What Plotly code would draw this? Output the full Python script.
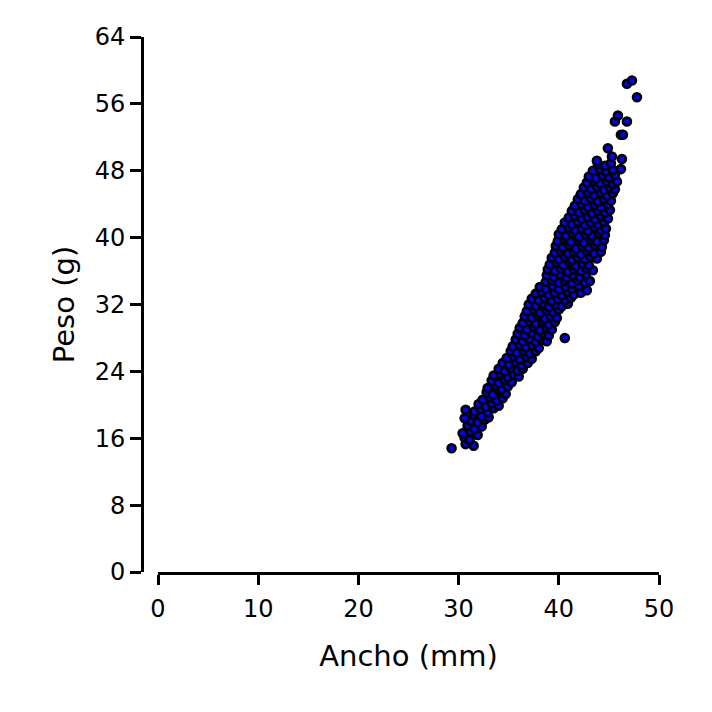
import plotly.graph_objects as go

# Ancho (mm) and Peso (g) values
ancho = [
    29.3,
    30.7, 31.5,
    30.6, 31.1,
    30.4, 31.2, 31.9,
    30.9, 31.6, 32.3,
    31.2, 31.9, 32.6,
    30.6, 31.5, 32.3, 33.0,
    30.7, 31.6, 32.2, 32.9, 33.5,
    32.0, 32.7, 33.3, 34.0,
    32.4, 33.1, 33.8, 34.4,
    32.8, 33.4, 34.1, 34.7,
    32.9, 33.7, 34.3, 34.9,
    33.3, 34.0, 34.6, 35.3,
    33.5, 34.2, 34.9, 35.5, 36.0,
    34.0, 34.6, 35.2, 35.9, 36.4,
    34.4, 35.0, 35.7, 36.3, 36.9,
    34.8, 35.5, 36.1, 36.8, 37.3,
    35.2, 35.8, 36.5, 37.1, 37.7,
    35.4, 36.1, 36.7, 37.4, 38.0,
    35.7, 36.4, 37.0, 37.7, 38.3, 38.8,
    35.9, 36.6, 37.3, 37.9, 38.5, 39.0, 40.6,
    36.1, 36.8, 37.5, 38.1, 38.8, 39.3,
    36.4, 37.1, 37.7, 38.4, 39.0, 39.6,
    36.6, 37.3, 37.9, 38.6, 39.2, 39.8,
    36.8, 37.5, 38.1, 38.8, 39.4, 40.0,
    37.0, 37.7, 38.4, 39.0, 39.7, 40.3, 40.9,
    37.3, 38.0, 38.6, 39.3, 39.9, 40.6, 41.2,
    37.7, 38.3, 39.0, 39.6, 40.3, 40.9, 41.5, 42.2,
    38.1, 38.7, 39.4, 40.0, 40.7, 41.3, 42.0, 42.8,
    38.7, 39.3, 40.0, 40.6, 41.3, 41.9, 42.6, 43.1,
    38.8, 39.5, 40.1, 40.8, 41.4, 42.1, 42.7,
    38.9, 39.6, 40.2, 40.9, 41.5, 42.2, 42.8, 43.4,
    39.1, 39.8, 40.4, 41.1, 41.7, 42.4, 43.0,
    39.3, 40.0, 40.6, 41.3, 41.9, 42.6, 43.2, 43.8,
    39.6, 40.2, 40.9, 41.5, 42.2, 42.8, 43.5, 44.2,
    39.7, 40.4, 41.0, 41.7, 42.3, 43.0, 43.6, 44.3,
    39.9, 40.6, 41.2, 41.9, 42.5, 43.2, 43.8, 44.5,
    40.0, 40.7, 41.4, 42.0, 42.7, 43.3, 44.0, 44.6,
    40.3, 41.0, 41.6, 42.3, 42.9, 43.6, 44.2, 44.7,
    40.6, 41.3, 41.9, 42.6, 43.2, 43.9, 44.5,
    41.0, 41.6, 42.3, 42.9, 43.6, 44.2, 44.9,
    41.3, 42.0, 42.6, 43.3, 43.9, 44.6, 45.1,
    41.6, 42.3, 42.9, 43.6, 44.2, 44.9,
    41.9, 42.6, 43.2, 43.9, 44.5, 45.2,
    42.2, 42.9, 43.5, 44.2, 44.8, 45.4,
    42.5, 43.2, 43.8, 44.5, 45.1, 45.6,
    42.8, 43.5, 44.1, 44.8, 45.4, 45.8,
    43.0, 43.7, 44.4, 45.0, 45.6,
    43.4, 44.1, 44.7, 45.4, 46.2,
    43.9, 44.6, 45.2,
    43.8, 45.3, 46.3,
    44.9,
    46.2, 46.4,
    45.6, 46.8,
    45.9,
    47.8,
    46.8,
    47.3,
]

peso = [
    14.8,
    15.3, 15.1,
    16.1, 15.8,
    16.6, 16.8, 16.4,
    17.5, 17.1, 17.4,
    18.1, 17.9, 18.2,
    18.4, 18.8, 18.6, 18.5,
    19.4, 19.2, 19.5, 19.1, 19.6,
    20.1, 19.8, 20.2, 19.9,
    20.6, 20.9, 20.5, 20.8,
    21.5, 21.2, 21.6, 21.3,
    22.0, 22.3, 21.9, 22.2,
    22.9, 22.6, 23.0, 22.7,
    23.5, 23.7, 23.3, 23.6, 23.4,
    24.3, 24.0, 24.4, 24.1, 24.3,
    25.0, 24.8, 25.1, 24.7, 25.0,
    25.6, 25.8, 25.4, 25.7, 25.5,
    26.4, 26.2, 26.5, 26.1, 26.4,
    27.0, 27.2, 26.9, 27.1, 26.8,
    27.8, 27.6, 27.9, 27.5, 27.8, 27.6,
    28.5, 28.3, 28.6, 28.2, 28.5, 28.3, 28.0,
    29.2, 29.0, 29.3, 28.9, 29.2, 29.0,
    29.8, 30.0, 29.7, 30.0, 29.6, 29.9,
    30.6, 30.4, 30.7, 30.3, 30.6, 30.4,
    31.2, 31.4, 31.0, 31.3, 31.1, 31.4,
    32.0, 31.8, 32.1, 31.7, 32.0, 31.8, 32.1,
    32.7, 32.5, 32.8, 32.4, 32.7, 32.5, 32.8,
    33.3, 33.5, 33.2, 33.4, 33.1, 33.5, 33.2, 33.4,
    34.1, 33.9, 34.2, 33.8, 34.1, 33.9, 34.2, 33.7,
    34.7, 34.9, 34.6, 34.8, 34.5, 34.9, 34.6, 34.8,
    35.5, 35.3, 35.6, 35.2, 35.5, 35.3, 35.6,
    36.2, 36.0, 36.3, 35.9, 36.2, 36.0, 36.3, 36.1,
    36.8, 37.0, 36.7, 37.0, 36.6, 36.9, 36.7,
    37.6, 37.4, 37.7, 37.3, 37.6, 37.4, 37.7, 37.5,
    38.2, 38.4, 38.1, 38.3, 38.0, 38.4, 38.1, 38.3,
    39.0, 38.8, 39.1, 38.7, 39.0, 38.8, 39.1, 38.9,
    39.6, 39.8, 39.5, 39.7, 39.4, 39.8, 39.5, 39.7,
    40.4, 40.2, 40.5, 40.1, 40.4, 40.2, 40.5, 40.3,
    41.0, 41.2, 40.9, 41.1, 40.8, 41.2, 40.9, 41.1,
    41.8, 41.6, 41.9, 41.5, 41.8, 41.6, 41.9,
    42.4, 42.6, 42.3, 42.5, 42.2, 42.6, 42.3,
    43.2, 43.0, 43.3, 42.9, 43.2, 43.0, 43.3,
    43.8, 44.0, 43.7, 43.9, 43.6, 44.0,
    44.6, 44.4, 44.7, 44.3, 44.6, 44.4,
    45.2, 45.4, 45.1, 45.3, 45.0, 45.3,
    46.0, 45.8, 46.1, 45.7, 46.0, 45.8,
    46.6, 46.8, 46.5, 46.7, 46.4, 46.7,
    47.3, 47.1, 47.4, 47.2, 47.5,
    48.0, 48.2, 47.9, 48.1, 48.2,
    48.8, 48.6, 48.9,
    49.2, 49.7, 49.4,
    50.7,
    52.3, 52.3,
    53.9, 53.9,
    54.6,
    56.8,
    58.4,
    58.8,
]

x_ticks = [0, 10, 20, 30, 40, 50]
y_ticks = [0, 8, 16, 24, 32, 40, 48, 56, 64]

FONT = "DejaVu Sans, Arial, sans-serif"

fig = go.Figure(
    go.Scatter(
        x=ancho, y=peso, mode="markers",
        marker=dict(size=8, color="#0000FF", line=dict(color="black", width=2.6)),
        cliponaxis=False,
    )
)

fig.update_layout(
    width=712, height=712,
    margin=dict(l=134, r=61, t=29, b=148),
    paper_bgcolor="white", plot_bgcolor="white",
    showlegend=False,
    font=dict(family=FONT, color="black"),
    xaxis=dict(
        domain=[16 / 517, 1], range=[0, 50], anchor="y",
        tickvals=x_ticks, ticks="outside", ticklen=10, tickwidth=3, tickcolor="black",
        showline=True, linewidth=3, linecolor="black", showgrid=False, zeroline=False,
        tickfont=dict(size=24, family=FONT), ticklabelstandoff=3,
        title=dict(text="Ancho (mm)", font=dict(size=29, family=FONT), standoff=24),
        automargin=False,
    ),
    yaxis=dict(
        range=[0, 64], anchor="free", position=0,
        tickvals=y_ticks, ticks="outside", ticklen=11, tickwidth=3, tickcolor="black",
        showline=True, linewidth=3, linecolor="black", showgrid=False, zeroline=False,
        tickfont=dict(size=24, family=FONT), ticklabelstandoff=0,
        title=dict(text="Peso (g)", font=dict(size=29, family=FONT), standoff=10),
        automargin=False,
    ),
)

fig.write_html("out.html")
